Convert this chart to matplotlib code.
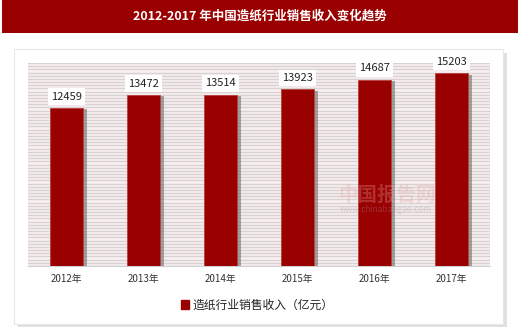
import matplotlib.pyplot as plt
import matplotlib.patches as mpatches
import matplotlib.patheffects as pe
from matplotlib.ticker import MultipleLocator

plt.rcParams['font.family'] = ['Noto Sans CJK SC', 'DejaVu Sans']

years = ['2012年', '2013年', '2014年', '2015年', '2016年', '2017年']
revenue = [12459, 13472, 13514, 13923, 14687, 15203]
title = '2012-2017 年中国造纸行业销售收入变化趋势'
series_name = '造纸行业销售收入（亿元）'

W, H = 520, 327
fig = plt.figure(figsize=(W / 100, H / 100), dpi=100)
fig.patch.set_facecolor('white')

# title banner
fig.patches.append(mpatches.Rectangle((2 / W, 1 - 33 / H), 516 / W, 33 / H,
                                      transform=fig.transFigure, facecolor='#9a0000',
                                      edgecolor='none', zorder=-1))
fig.text(0.5, 1 - 16 / H, title, color='white', fontsize=9, fontweight='bold',
         ha='center', va='center')

# white panel with shadow
panel = mpatches.Rectangle((14 / W, 1 - 324 / H), 489 / W, 275 / H,
                           transform=fig.transFigure, facecolor='white',
                           edgecolor='#e6e6e6', lw=0.8, zorder=-1,
                           path_effects=[pe.SimplePatchShadow(offset=(3, -3), shadow_rgbFace='#999999', alpha=0.3),
                                         pe.Normal()])
fig.patches.append(panel)

ax = fig.add_axes([28 / W, 1 - 266 / H, 462 / W, 203 / H])
ax.set_facecolor('#f9f1f1')
ax.set_xlim(-0.5, len(years) - 0.5)
ax.set_ylim(0, 16000)
ax.yaxis.set_major_locator(MultipleLocator(250))
ax.grid(axis='y', color='#d9d2d2', lw=1.0)
ax.set_axisbelow(True)
for s in ax.spines.values():
    s.set_visible(False)
ax.spines['bottom'].set_visible(True)
ax.spines['bottom'].set_color('#d0d0d0')
ax.tick_params(axis='y', left=False, labelleft=False)
ax.tick_params(axis='x', length=0, pad=6, labelsize=7, labelcolor='#333333')

bars = ax.bar(range(len(years)), revenue, width=0.43, color='#990000',
              edgecolor='#b84040', lw=0.6, zorder=3,
              path_effects=[pe.SimplePatchShadow(offset=(3, -1), shadow_rgbFace='#555555', alpha=0.5),
                            pe.Normal()])
ax.set_xticks(range(len(years)))
ax.set_xticklabels(years)

for i, v in enumerate(revenue):
    ax.text(i, v + 500, str(v), ha='center', va='bottom', fontsize=8, color='#222222',
            zorder=5, bbox=dict(boxstyle='square,pad=0.3', facecolor='white', edgecolor='none'))

# watermark
fig.text(338 / W, 1 - 195 / H, '中国报告网', fontsize=14, color='#e8a0a0', alpha=0.3,
         ha='left', va='center', fontweight='bold', zorder=6)
fig.text(340 / W, 1 - 209 / H, 'www.chinabaogao.com', fontsize=6, color='#b09090', alpha=0.35,
         ha='left', va='center', zorder=6)

handle = mpatches.Patch(color='#990000', label=series_name)
fig.legend(handles=[handle], loc='center', bbox_to_anchor=(257 / W, 1 - 305 / H), frameon=False,
           fontsize=8.5, handlelength=0.7, handleheight=0.7, handletextpad=0.3,
           labelcolor='#222222')

fig.savefig('out.png', dpi=100)
